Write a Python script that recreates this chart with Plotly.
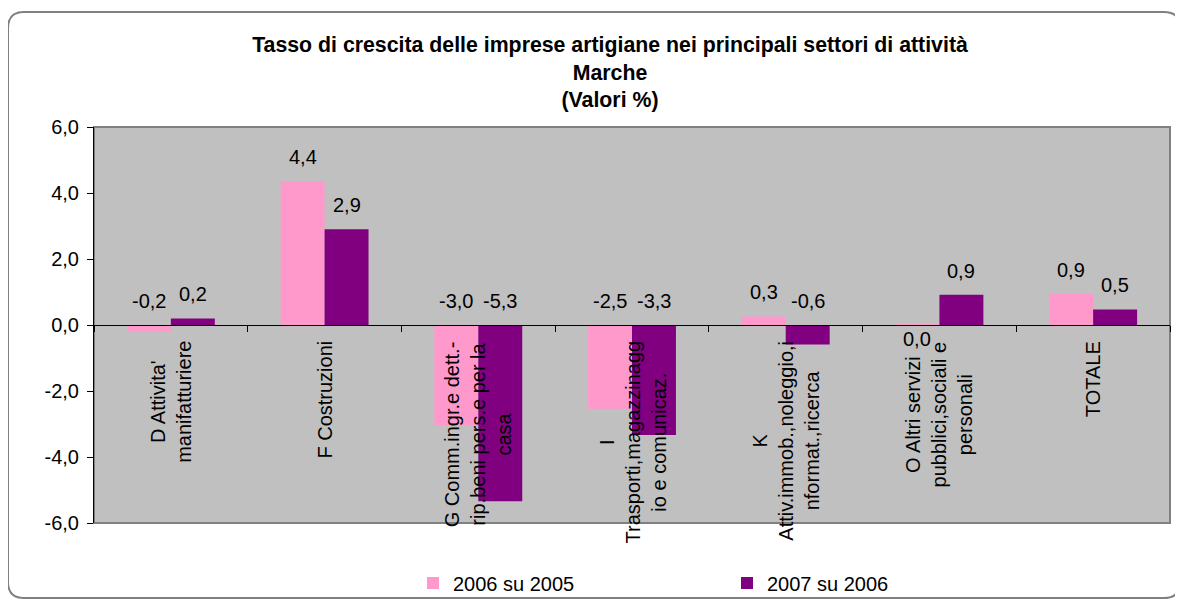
import plotly.graph_objects as go

# ---------------- data ----------------
CATEGORIES = [
    "D Attivita'<br>manifatturiere",
    "F Costruzioni",
    "G Comm.ingr.e dett.-<br>rip.beni pers.e per la<br>casa",
    "I<br>Trasporti,magazzinagg<br>io e comunicaz.",
    "K<br>Attiv.immob.,noleggio,i<br>nformat.,ricerca",
    "O Altri servizi<br>pubblici,sociali e<br>personali",
    "TOTALE",
]
SERIES_1_NAME = "2006 su 2005"
SERIES_1 = [-0.2, 4.36, -3.04, -2.54, 0.26, 0.03, 0.94]
SERIES_2_NAME = "2007 su 2006"
SERIES_2 = [0.2, 2.9, -5.34, -3.33, -0.59, 0.92, 0.47]
Y_TICK_VALS = [6, 4, 2, 0, -2, -4, -6]
Y_TICK_TEXT = ["6,0", "4,0", "2,0", "0,0", "-2,0", "-4,0", "-6,0"]
TITLE_LINES = [
    "Tasso di crescita delle imprese artigiane nei principali settori di attività",
    "Marche",
    "(Valori %)",
]

# ---------------- style ----------------
PAGE_OFF = 8  # default body margin of the html page
W, H = 1183 - PAGE_OFF, 601 - PAGE_OFF
# geometry measured in screen pixels, converted to figure pixels
L, R, T, B = 94 - PAGE_OFF, 1170 - PAGE_OFF, 127 - PAGE_OFF, 523 - PAGE_OFF
FONT = "Liberation Sans, Arial, sans-serif"
PINK = "#FF99CC"
PURPLE = "#800080"
BARGAP = 0.428

x_idx = list(range(len(CATEGORIES)))


def px_x(screen_px):
    return (screen_px - PAGE_OFF - L) / (R - L)


def px_y(screen_py):
    return (B - (screen_py - PAGE_OFF)) / (B - T)


fig = go.Figure()
fig.add_trace(go.Bar(x=x_idx, y=SERIES_1, name=SERIES_1_NAME,
                     marker=dict(color=PINK, line=dict(width=0))))
fig.add_trace(go.Bar(x=x_idx, y=SERIES_2, name=SERIES_2_NAME,
                     marker=dict(color=PURPLE, line=dict(width=0))))

annotations = []
off = (1 - BARGAP) / 4
for series, sign in ((SERIES_1, -1), (SERIES_2, 1)):
    for i, v in enumerate(series):
        txt = f"{v:.1f}".replace(".", ",")
        near_zero = abs(v) < 0.05
        annotations.append(dict(
            x=i + sign * off, y=max(v, 0), xref="x", yref="y",
            text=txt, showarrow=False, yanchor="middle",
            yshift=-15 if near_zero else 24,
            font=dict(family=FONT, size=20, color="black")))

for i, c in enumerate(CATEGORIES):
    annotations.append(dict(
        x=i, y=0, xref="x", yref="y", text=c, textangle=-90,
        showarrow=False, yanchor="top", xanchor="center", yshift=-14,
        align="center", font=dict(family=FONT, size=20, color="black")))

# outer rounded frame (screen px)
x0, y0, x1, y1, rr = 8, 12, 1180, 598, 16
pts = [
    ("M", x0, y0 + rr), ("Q", x0, y0, x0 + rr, y0), ("L", x1 - rr, y0),
    ("Q", x1, y0, x1, y0 + rr), ("L", x1, y1 - rr), ("Q", x1, y1, x1 - rr, y1),
    ("L", x0 + rr, y1), ("Q", x0, y1, x0, y1 - rr),
]
path = ""
for p in pts:
    cmd, coords = p[0], p[1:]
    segs = []
    for k in range(0, len(coords), 2):
        segs.append(f"{px_x(coords[k]):.5f},{px_y(coords[k+1]):.5f}")
    path += cmd + " " + " ".join(segs) + " "
path += "Z"

shapes = [
    dict(type="path", path=path, xref="paper", yref="paper",
         line=dict(color="#808080", width=2), layer="below"),
    dict(type="rect", x0=0, x1=1, y0=0, y1=1, xref="paper", yref="paper",
         line=dict(color="#808080", width=2), layer="below"),
]

fig.update_layout(
    width=W, height=H,
    margin=dict(l=L, r=W - R, t=T, b=H - B, autoexpand=False),
    paper_bgcolor="white", plot_bgcolor="#C0C0C0",
    barmode="group", bargap=BARGAP, bargroupgap=0,
    font=dict(family=FONT, size=20, color="black"),
    title=dict(text="<br>".join(f"<b>{t}</b>" for t in TITLE_LINES),
               x=(610 - PAGE_OFF) / W, xref="container", xanchor="center",
               y=1 - 44 / H, yref="container", yanchor="top",
               font=dict(family=FONT, size=21.3, color="black")),
    xaxis=dict(range=[-0.5, len(CATEGORIES) - 0.5], anchor="free", position=0.5,
               tickvals=[i - 0.5 for i in range(len(CATEGORIES) + 1)],
               ticks="outside", ticklen=6, tickcolor="#000", showticklabels=False,
               showline=True, linecolor="#000", linewidth=1,
               showgrid=False, zeroline=False, fixedrange=True),
    yaxis=dict(range=[-6, 6], tickvals=Y_TICK_VALS, ticktext=Y_TICK_TEXT,
               ticks="outside", ticklen=6, tickcolor="#000",
               ticklabelstandoff=4,
               tickfont=dict(family=FONT, size=20, color="black"),
               showline=True, linecolor="#000", linewidth=1,
               showgrid=False, zeroline=False),
    legend=dict(orientation="h", x=px_x(413), y=px_y(583), xanchor="left",
                yanchor="middle", font=dict(family=FONT, size=20, color="black"),
                entrywidth=269, entrywidthmode="pixels",
                bgcolor="rgba(0,0,0,0)"),
    annotations=annotations,
    shapes=shapes,
)

fig.write_html("out.html")
